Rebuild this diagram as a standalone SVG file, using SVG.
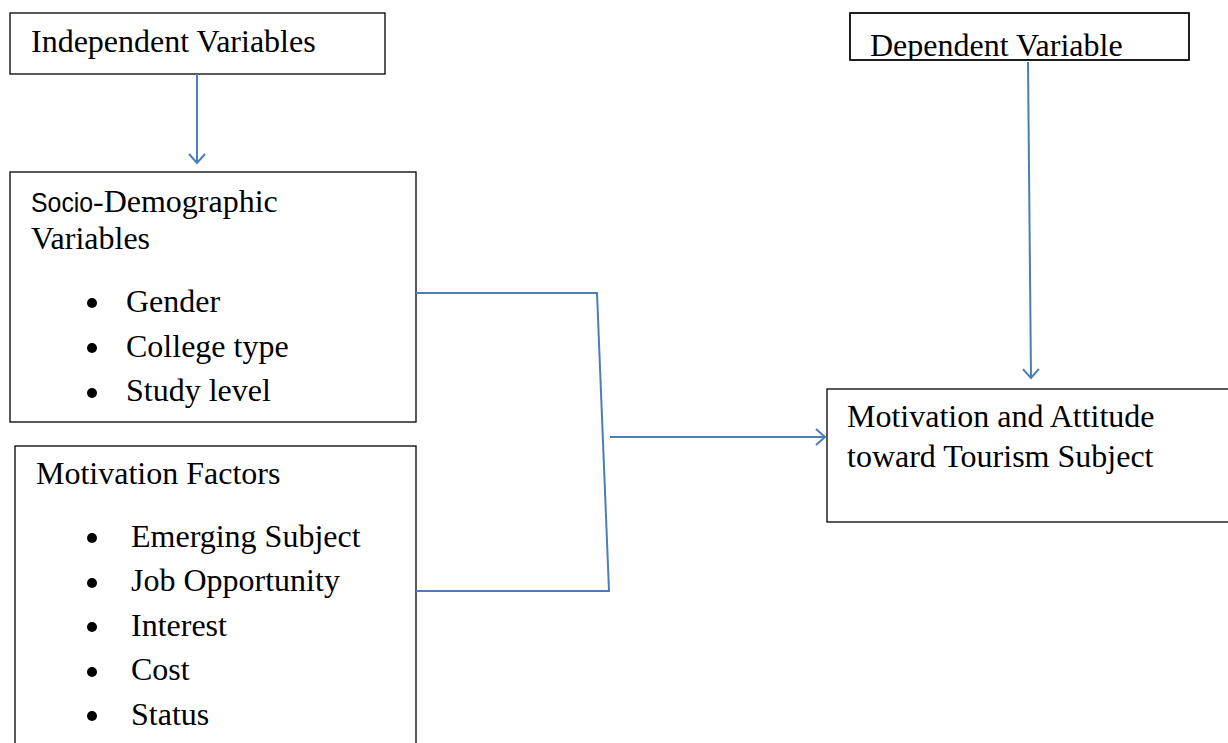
<svg xmlns="http://www.w3.org/2000/svg" width="1228" height="743" viewBox="0 0 1228 743">
<defs>
<style>
.box{fill:#fff;stroke:#000;stroke-width:1.3}
.frame{fill:none;stroke:#000;stroke-width:1.3}
.t{font-family:"Liberation Serif","Times New Roman",serif;font-size:32px;fill:#000}
.s{font-family:"Liberation Sans",Arial,sans-serif;font-size:27px;fill:#000}
.c{fill:none;stroke:#4a7ebb;stroke-width:2}
.b{fill:#000}
</style>
<marker id="ah" markerWidth="20" markerHeight="20" refX="10" refY="10" orient="auto" markerUnits="userSpaceOnUse">
<path d="M1,2 L10,10 L1,18" fill="none" stroke="#4a7ebb" stroke-width="2"/>
</marker>
<clipPath id="dclip"><rect x="850" y="13" width="339" height="47"/></clipPath>
</defs>
<rect width="1228" height="743" fill="#fff"/>
<g id="independent">
<rect class="box" x="10" y="13" width="375" height="61"/>
<text class="t" x="31" y="52">Independent Variables</text>
</g>
<g id="dependent">
<rect class="box" x="850" y="13" width="339" height="47"/>
<text class="t" x="870" y="56" clip-path="url(#dclip)">Dependent Variable</text>
<rect class="frame" x="850" y="13" width="339" height="47"/>
</g>
<g id="socio">
<rect class="box" x="10" y="172" width="406" height="250"/>
<text class="s" transform="translate(31,212) scale(0.92,1)">Socio</text>
<text class="t" x="93" y="212">-Demographic</text>
<text class="t" x="31" y="249">Variables</text>
<circle class="b" cx="92" cy="303" r="5"/>
<circle class="b" cx="92" cy="348" r="5"/>
<circle class="b" cx="92" cy="393" r="5"/>
<text class="t" x="126" y="312">Gender</text>
<text class="t" x="126" y="357">College type</text>
<text class="t" x="126" y="401">Study level</text>
</g>
<g id="motivation">
<rect class="box" x="15" y="446" width="401" height="310"/>
<text class="t" x="36" y="484">Motivation Factors</text>
<circle class="b" cx="92" cy="538" r="5"/>
<circle class="b" cx="92" cy="583" r="5"/>
<circle class="b" cx="92" cy="627" r="5"/>
<circle class="b" cx="92" cy="672" r="5"/>
<circle class="b" cx="92" cy="716" r="5"/>
<text class="t" x="131" y="547">Emerging Subject</text>
<text class="t" x="131" y="591">Job Opportunity</text>
<text class="t" x="131" y="636">Interest</text>
<text class="t" x="131" y="680">Cost</text>
<text class="t" x="131" y="725">Status</text>
</g>
<g id="outcome">
<rect class="box" x="827" y="389" width="410" height="133"/>
<text class="t" x="847" y="427">Motivation and Attitude</text>
<text class="t" x="847" y="467">toward Tourism Subject</text>
</g>
<g id="connectors">
<line class="c" x1="197" y1="74" x2="197" y2="163" marker-end="url(#ah)"/>
<line class="c" x1="1028" y1="62" x2="1031" y2="378" marker-end="url(#ah)"/>
<polyline class="c" points="416,293 597,293 609,591 416,591"/>
<line class="c" x1="610" y1="437" x2="825" y2="437" marker-end="url(#ah)"/>
</g>
</svg>
